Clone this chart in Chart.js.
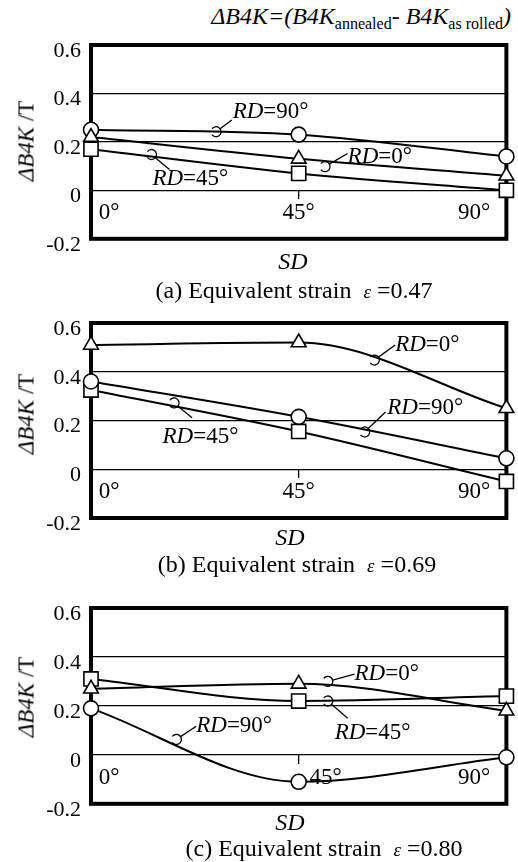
<!DOCTYPE html>
<html>
<head>
<meta charset="utf-8">
<script src="https://cdn.jsdelivr.net/npm/chart.js@4.4.1/dist/chart.umd.min.js"></script>
<style>
  body { margin: 0; background: #fff; }
  #page { position: relative; width: 518px; height: 862px; font-family: "Liberation Serif", serif; color: #000; }
  canvas, .txt { position: absolute; }
  .txt { white-space: nowrap; line-height: 1; }
  .ylab { font-size: 23px; transform: translate(-50%, -50%) rotate(-90deg); }
  .sd { font-size: 24px; font-style: italic; transform: translate(-50%, -50%); }
  .cap { font-size: 24px; transform: translate(-50%, -50%); }
  .cap i { font-size: 19px; }
  .formula { font-size: 24px; font-style: italic; right: 7px; top: 4px; }
  .formula sub { font-style: normal; font-size: 16px; vertical-align: -5px; }
</style>
</head>
<body>
<div id="page">
  <div class="txt formula">&Delta;B4K=(B4K<sub>annealed</sub>- B4K<sub>as rolled</sub>)</div>

  <canvas id="chartA" width="518" height="262" style="left:0;top:0"></canvas>
  <div class="txt ylab" style="left:26px;top:141px"><i>&Delta;B4K</i> /T</div>
  <div class="txt sd" style="left:293px;top:261px">SD</div>
  <div class="txt cap" style="left:294px;top:290px">(a) Equivalent strain &nbsp;<i>&epsilon;</i> =0.47</div>

  <canvas id="chartB" width="518" height="262" style="left:0;top:280px"></canvas>
  <div class="txt ylab" style="left:26px;top:414px"><i>&Delta;B4K</i> /T</div>
  <div class="txt sd" style="left:290px;top:537px">SD</div>
  <div class="txt cap" style="left:297px;top:564px">(b) Equivalent strain &nbsp;<i>&epsilon;</i> =0.69</div>

  <canvas id="chartC" width="518" height="262" style="left:0;top:565px"></canvas>
  <div class="txt ylab" style="left:26px;top:697px"><i>&Delta;B4K</i> /T</div>
  <div class="txt sd" style="left:290px;top:822px">SD</div>
  <div class="txt cap" style="left:324px;top:848px">(c) Equivalent strain &nbsp;<i>&epsilon;</i> =0.80</div>
</div>
<script>
// SD angle (x) shared by all panels
var sdAngles = [0, 45, 90];
var yTicks = [-0.2, 0, 0.2, 0.4, 0.6];

// (a) equivalent strain 0.47
var aRd0 = [0.22, 0.13, 0.06];
var aRd45 = [0.17, 0.07, 0.00];
var aRd90 = [0.25, 0.23, 0.14];

// (b) equivalent strain 0.69
var bRd0 = [0.51, 0.52, 0.25];
var bRd45 = [0.325, 0.155, -0.05];
var bRd90 = [0.36, 0.215, 0.045];

// (c) equivalent strain 0.80
var cRd0 = [0.27, 0.29, 0.18];
var cRd45 = [0.31, 0.22, 0.24];
var cRd90 = [0.19, -0.11, -0.01];

// label callouts, in data units: hook on the curve, leader end, label left/middle
var notesA = [
  {deg: '90', hook: [27.1, 0.242], end: [30.5, 0.29], at: [30.7, 0.324]},
  {deg: '0', hook: [50.7, 0.098], end: [55.6, 0.152], at: [55.6, 0.139]},
  {deg: '45', hook: [13.1, 0.148], end: [17.0, 0.086], at: [13.3, 0.045]}
];
var notesB = [
  {deg: '0', hook: [61.4, 0.448], end: [65.9, 0.51], at: [65.9, 0.51]},
  {deg: '90', hook: [59.3, 0.153], end: [63.8, 0.235], at: [64.2, 0.251]},
  {deg: '45', hook: [18.0, 0.272], end: [21.9, 0.211], at: [15.5, 0.133]}
];
var notesC = [
  {deg: '0', hook: [51.3, 0.30], end: [57.1, 0.33], at: [57.1, 0.33]},
  {deg: '45', hook: [51.3, 0.22], end: [55.6, 0.15], at: [52.8, 0.09]},
  {deg: '90', hook: [18.5, 0.063], end: [22.8, 0.117], at: [22.8, 0.117]}
];

var serif = '"Liberation Serif", serif';

function pts(vals) {
  return sdAngles.map(function (a, i) { return {x: a, y: vals[i]}; });
}

function series(label, vals, shape, r) {
  return {
    label: label,
    data: pts(vals),
    borderColor: '#000',
    borderWidth: 2,
    cubicInterpolationMode: 'monotone',
    pointStyle: shape,
    pointRadius: r,
    pointBorderWidth: 1.6,
    pointBackgroundColor: '#fff',
    pointBorderColor: '#000',
    clip: false
  };
}

function notesPlugin(notes) {
  return {
    id: 'frameNotes',
    beforeDatasetsDraw: function (chart) {
      var ctx = chart.ctx, a = chart.chartArea;
      ctx.save();
      ctx.lineWidth = 4;
      ctx.strokeStyle = '#000';
      ctx.strokeRect(a.left, a.top, a.right - a.left, a.bottom - a.top);
      ctx.restore();
    },
    afterDatasetsDraw: function (chart) {
      var ctx = chart.ctx, xs = chart.scales.x, ys = chart.scales.y;
      ctx.save();
      ctx.strokeStyle = '#000';
      ctx.fillStyle = '#000';
      ctx.lineWidth = 1.3;
      notes.forEach(function (n) {
        var hx = xs.getPixelForValue(n.hook[0]), hy = ys.getPixelForValue(n.hook[1]);
        var ex = xs.getPixelForValue(n.end[0]), ey = ys.getPixelForValue(n.end[1]);
        var lx = xs.getPixelForValue(n.at[0]), ly = ys.getPixelForValue(n.at[1]);
        ctx.beginPath();
        ctx.arc(hx, hy, 5, -Math.PI * 0.8, Math.PI * 0.8);
        ctx.stroke();
        var ang = Math.atan2(ey - hy, ex - hx);
        ctx.beginPath();
        ctx.moveTo(hx + 5 * Math.cos(ang), hy + 5 * Math.sin(ang));
        ctx.lineTo(ex, ey);
        ctx.stroke();
        ctx.textBaseline = 'middle';
        ctx.textAlign = 'left';
        ctx.font = 'italic 23px ' + serif;
        ctx.fillText('RD', lx, ly);
        var w = ctx.measureText('RD').width;
        ctx.font = '23px ' + serif;
        ctx.fillText('=' + n.deg + '\u00b0', lx + w, ly);
      });
      ctx.restore();
    }
  };
}

function makeChart(id, d0, d45, d90, notes, padTop, padBottom, midShift) {
  var ctx = document.getElementById(id).getContext('2d');
  return new Chart(ctx, {
    type: 'line',
    data: {
      datasets: [
        series('RD=0\u00b0', d0, 'triangle', 8.5),
        series('RD=90\u00b0', d90, 'circle', 7.5),
        series('RD=45\u00b0', d45, 'rect', 10)
      ]
    },
    options: {
      responsive: false,
      animation: false,
      layout: {padding: {top: padTop, bottom: padBottom, left: 0, right: 8}},
      plugins: {legend: {display: false}, tooltip: {enabled: false}},
      scales: {
        x: {
          type: 'linear',
          position: {y: 0},
          min: 0,
          max: 90,
          border: {display: false},
          grid: {drawOnChartArea: false, tickLength: 9, color: '#000', lineWidth: 1.3},
          ticks: {
            stepSize: 45,
            align: 'inner',
            padding: 0,
            color: '#000',
            font: {family: serif, size: 23},
            callback: function (v) {
              if (v === 0) return '\u2004' + v + '\u00b0';
              if (v === 90) return v + '\u00b0\u2002\u2009';
              return midShift + v + '\u00b0';
            }
          }
        },
        y: {
          min: -0.2,
          max: 0.6,
          afterFit: function (s) { s.width = 91; },
          afterBuildTicks: function (s) { s.ticks = yTicks.map(function (v) { return {value: v}; }); },
          border: {display: false},
          grid: {color: '#000', lineWidth: 1.3, drawTicks: false},
          ticks: {
            padding: 10,
            labelOffset: 6,
            color: '#000',
            font: {family: serif, size: 22},
            callback: function (v) { return String(Number(v.toFixed(1))); }
          }
        }
      }
    },
    plugins: [notesPlugin(notes)]
  });
}

makeChart('chartA', aRd0, aRd45, aRd90, notesA, 45, 22, '');
makeChart('chartB', bRd0, bRd45, bRd90, notesB, 43, 24, '');
makeChart('chartC', cRd0, cRd45, cRd90, notesC, 43, 22, '\u2003\u2003\u2004');
</script>
</body>
</html>
